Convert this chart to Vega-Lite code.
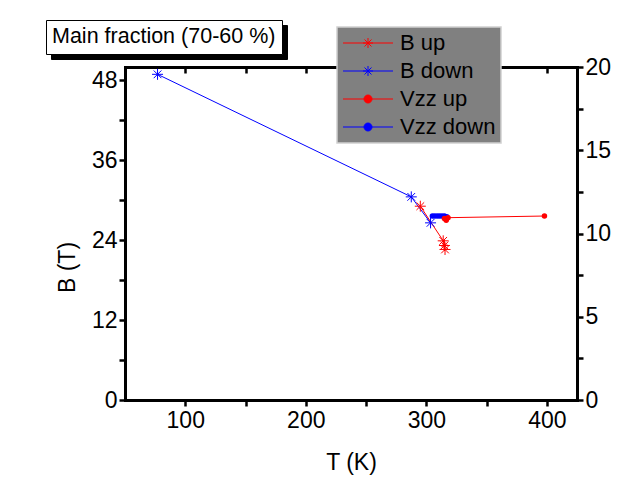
{
  "$schema": "https://vega.github.io/schema/vega-lite/v6.json",
  "width": 452,
  "height": 333,
  "autosize": {"type": "none"},
  "padding": {"left": 125, "top": 67, "right": 55, "bottom": 79},
  "background": "white",
  "config": {
    "view": {"stroke": null},
    "font": "Liberation Sans",
    "axis": {
      "domainColor": "black", "domainWidth": 3, "domainCap": "square",
      "ticks": true, "tickColor": "black", "tickWidth": 2.5, "tickSize": 6,
      "labelFont": "Liberation Sans", "labelFontSize": 23, "labelColor": "black",
      "titleFont": "Liberation Sans", "titleFontSize": 23, "titleColor": "black", "titleFontWeight": "normal",
      "grid": false
    }
  },
  "data": {
    "values": [
      {"series": "B down", "T": 77, "val": 48.9},
      {"series": "B down", "T": 287.5, "val": 30.5},
      {"series": "B down", "T": 303.5, "val": 26.6},
      {"series": "B up", "T": 295, "val": 29.1},
      {"series": "B up", "T": 314, "val": 23.9},
      {"series": "B up", "T": 315, "val": 23.2},
      {"series": "B up", "T": 315.5, "val": 22.6},
      {"series": "Vzz down", "T": 305, "val": 11.05},
      {"series": "Vzz down", "T": 307, "val": 11.05},
      {"series": "Vzz down", "T": 309, "val": 11.05},
      {"series": "Vzz down", "T": 311, "val": 11.05},
      {"series": "Vzz down", "T": 313, "val": 11.05},
      {"series": "Vzz down", "T": 315, "val": 11.05},
      {"series": "Vzz down", "T": 317, "val": 11.0},
      {"series": "Vzz up", "T": 315, "val": 10.9},
      {"series": "Vzz up", "T": 316.5, "val": 10.8},
      {"series": "Vzz up", "T": 318, "val": 10.95},
      {"series": "Vzz up", "T": 398, "val": 11.05}
    ]
  },
  "layer": [
    {
      "transform": [{"filter": "datum.series === 'B up' || datum.series === 'B down'"}],
      "mark": {"type": "line", "strokeWidth": 1},
      "encoding": {
        "x": {"field": "T", "type": "quantitative", "scale": {"domain": [50, 425], "nice": false, "zero": false},
          "axis": {"orient": "bottom", "title": "T (K)", "values": [100, 150, 200, 250, 300, 350, 400],
            "labelExpr": "datum.value % 100 === 0 ? datum.label : ''",
            "tickSize": 6, "labelPadding": 3, "titlePadding": 19}},
        "y": {"field": "val", "type": "quantitative", "scale": {"domain": [0, 50], "nice": false},
          "axis": {"orient": "left", "title": "B (T)", "values": [0, 6, 12, 18, 24, 30, 36, 42, 48],
            "labelExpr": "datum.value % 12 === 0 ? datum.label : ''",
            "tickSize": 6, "labelPadding": 2, "titlePadding": 12, "titleY": 200}},
        "color": {"field": "series", "type": "nominal",
          "scale": {"domain": ["B up", "B down", "Vzz up", "Vzz down"], "range": ["#ff0000", "#0000ff", "#ff0000", "#0000ff"]},
          "legend": {
            "title": null, "orient": "none", "legendX": 212, "legendY": -40,
            "fillColor": "#808080", "strokeColor": "#d0d0d0", "padding": 5,
            "labelFont": "Liberation Sans", "labelFontSize": 22, "labelColor": "black",
            "symbolSize": 100, "symbolOffset": 15, "labelOffset": 21, "rowPadding": 6,
            "encode": {
              "legend": {"update": {"strokeWidth": {"value": 1.5}}},
              "symbols": {
                "update": {
                  "shape": {"signal": "datum.value === 'B up' || datum.value === 'B down' ? 'M-5,0L5,0M-1,0L1,0M0,-1L0,1M-0.7,-0.7L0.7,0.7M-0.7,0.7L0.7,-0.7' : 'M-5,0L5,0M0.8,0A0.8,0.8,0,1,1,-0.8,0A0.8,0.8,0,1,1,0.8,0Z'"},
                  "fill": {"signal": "datum.value === 'Vzz up' ? '#ff0000' : datum.value === 'Vzz down' ? '#0000ff' : 'transparent'"},
                  "stroke": {"signal": "datum.value === 'B up' || datum.value === 'Vzz up' ? '#ff0000' : '#0000ff'"},
                  "strokeWidth": {"value": 1},
                  "size": {"value": 100},
                  "opacity": {"value": 1}
                }
              }
            }
          }}
      }
    },
    {
      "transform": [{"filter": "datum.series === 'B up' || datum.series === 'B down'"}],
      "mark": {"type": "point", "filled": false, "strokeWidth": 1, "opacity": 1, "size": 121,
        "shape": "M-1,0L1,0M0,-1L0,1M-0.7,-0.7L0.7,0.7M-0.7,0.7L0.7,-0.7"},
      "encoding": {
        "x": {"field": "T", "type": "quantitative", "scale": {"domain": [50, 425], "nice": false, "zero": false},
          "axis": {"orient": "top", "title": null, "labels": false, "values": [100, 150, 200, 250, 300, 350, 400],
            "tickSize": -6}},
        "y": {"field": "val", "type": "quantitative", "scale": {"domain": [0, 50], "nice": false}, "axis": null},
        "color": {"field": "series", "type": "nominal"}
      }
    },
    {
      "transform": [{"filter": "datum.series === 'Vzz up' || datum.series === 'Vzz down'"}],
      "mark": {"type": "line", "strokeWidth": 1},
      "encoding": {
        "x": {"field": "T", "type": "quantitative", "scale": {"domain": [50, 425], "nice": false, "zero": false}, "axis": null},
        "y": {"field": "val", "type": "quantitative", "scale": {"domain": [0, 20], "nice": false},
          "axis": {"orient": "right", "title": null, "values": [0, 2.5, 5, 7.5, 10, 12.5, 15, 17.5, 20],
            "labelExpr": "datum.value % 5 === 0 ? datum.label : ''",
            "tickSize": 6, "labelPadding": 2}},
        "color": {"field": "series", "type": "nominal"}
      }
    },
    {
      "transform": [{"filter": "datum.series === 'Vzz up' || datum.series === 'Vzz down'"}],
      "mark": {"type": "point", "filled": true, "opacity": 1, "size": 30, "shape": "circle"},
      "encoding": {
        "x": {"field": "T", "type": "quantitative", "scale": {"domain": [50, 425], "nice": false, "zero": false}, "axis": null},
        "y": {"field": "val", "type": "quantitative", "scale": {"domain": [0, 20], "nice": false}, "axis": null},
        "color": {"field": "series", "type": "nominal"}
      }
    },
    {
      "transform": [{"filter": "datum.T === 77"}],
      "mark": {"type": "point", "fillOpacity": 0, "strokeOpacity": 0},
      "encoding": {
        "x": {"field": "T", "type": "quantitative", "scale": {"domain": [50, 425], "nice": false, "zero": false}, "axis": null},
        "y": {"field": "val", "type": "quantitative", "scale": {"domain": [0, 50], "nice": false}, "axis": null},
        "size": {"datum": "shadow", "type": "ordinal", "scale": {"range": [0]},
          "legend": {"title": "Main fraction (70-60 %)", "values": [], "type": "symbol",
            "orient": "none", "legendX": -74, "legendY": -42,
            "fillColor": "black", "strokeColor": "black", "padding": 6, "titleLimit": 400,
            "titleFont": "Liberation Sans", "titleFontSize": 21.5, "titleFontWeight": "normal", "titleColor": "black", "titleOpacity": 0, "titlePadding": 0}},
        "opacity": {"datum": "box", "type": "ordinal", "scale": {"range": [0]},
          "legend": {"title": "Main fraction (70-60 %)", "values": [], "type": "symbol",
            "orient": "none", "legendX": -79, "legendY": -47,
            "fillColor": "white", "strokeColor": "black", "padding": 6, "titleLimit": 400,
            "titleFont": "Liberation Sans", "titleFontSize": 21.5, "titleFontWeight": "normal", "titleColor": "black", "titlePadding": 0,
            "encode": {"legend": {"update": {"strokeWidth": {"value": 1.5}}}}}}
      }
    }
  ],
  "resolve": {"scale": {"y": "independent"}}
}
